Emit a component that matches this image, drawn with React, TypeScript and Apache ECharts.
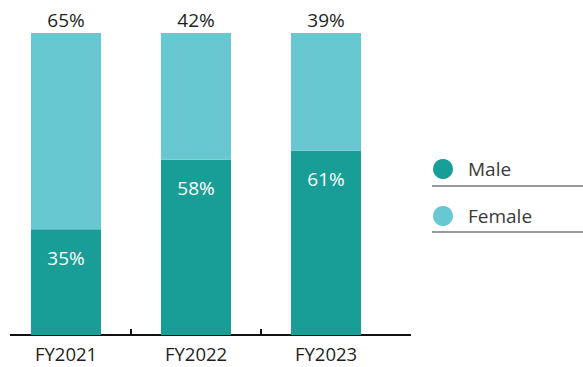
import React, { useEffect, useRef } from "react";
import * as echarts from "echarts";

const categories = ["FY2021", "FY2022", "FY2023"];
const maleValues = [35, 58, 61];
const femaleValues = [65, 42, 39];
const seriesNames = ["Male", "Female"];
const colors = ["#189e96", "#67c8d2"];
// boundary positions between the three bands (used only for the separator ticks)
const bandEdges = ["0", "1", "2", "3"];

const FONT = "'Open Sans', Lato, sans-serif";

export default function App() {
  const ref = useRef<HTMLDivElement>(null);

  useEffect(() => {
    if (!ref.current) return;
    const chart = echarts.init(ref.current, null, { renderer: "svg" });
    chart.setOption({
      animation: false,
      textStyle: { fontFamily: FONT },
      grid: { left: 1, width: 390, top: 33, bottom: 32, containLabel: false },
      legend: {
        orient: "vertical",
        left: 433,
        top: 159,
        padding: 0,
        itemWidth: 20,
        itemHeight: 20,
        itemGap: 27,
        icon: "circle",
        data: seriesNames,
        textStyle: { fontSize: 19, color: "#3a3a3a", fontFamily: FONT, padding: [0, 0, 0, 10] },
      },
      xAxis: [
        {
          type: "category",
          data: categories,
          axisLine: { show: false },
          axisTick: { show: false },
          axisLabel: { fontSize: 18.5, lineHeight: 20, color: "#1e1e1e", margin: 8, fontFamily: FONT },
        },
        {
          type: "category",
          data: bandEdges,
          boundaryGap: false,
          position: "bottom",
          axisLine: { show: false },
          axisLabel: { show: false },
          axisTick: {
            show: true,
            inside: true,
            length: 6,
            interval: (index: number) => index === 1 || index === 2,
            lineStyle: { color: "#111", width: 2 },
          },
        },
      ],
      yAxis: { type: "value", min: 0, max: 100, show: false },
      series: [
        {
          name: seriesNames[0],
          type: "bar",
          stack: "total",
          barWidth: 70,
          data: maleValues,
          itemStyle: { color: colors[0] },
          label: {
            show: true,
            position: "insideTop",
            distance: 19,
            formatter: "{c}%",
            color: "#fff",
            fontSize: 19,
            fontFamily: FONT,
          },
        },
        {
          name: seriesNames[1],
          type: "bar",
          stack: "total",
          barWidth: 70,
          data: femaleValues,
          itemStyle: { color: colors[1] },
          label: {
            show: true,
            position: "top",
            distance: 4,
            formatter: "{c}%",
            color: "#1e1e1e",
            fontSize: 19,
            fontFamily: FONT,
          },
        },
      ],
      graphic: [
        { type: "line", shape: { x1: 10, y1: 335, x2: 411, y2: 335 }, style: { stroke: "#111", lineWidth: 2 } },
        { type: "line", shape: { x1: 432, y1: 186, x2: 583, y2: 186 }, style: { stroke: "#777", lineWidth: 1.5 } },
        { type: "line", shape: { x1: 432, y1: 232, x2: 583, y2: 232 }, style: { stroke: "#777", lineWidth: 1.5 } },
      ],
    });
    return () => chart.dispose();
  }, []);

  return <div ref={ref} style={{ position: "absolute", left: 0, top: 0, width: 583, height: 367 }} />;
}
